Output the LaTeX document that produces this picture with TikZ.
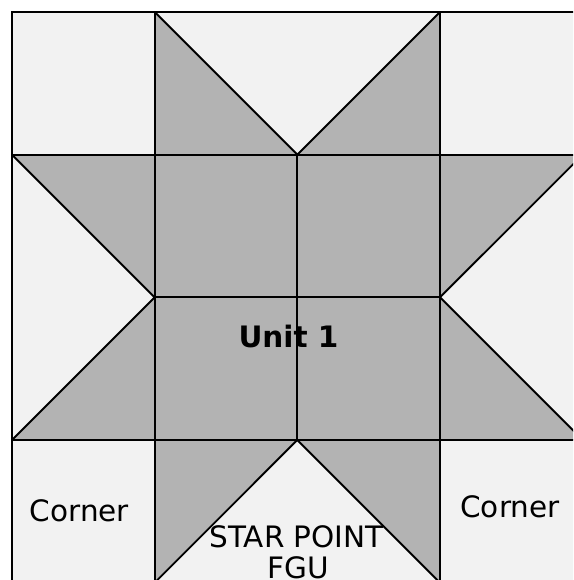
\documentclass[tikz,border=0pt]{standalone}
\usepackage{fontspec}
\setmainfont{DejaVu Sans}
\definecolor{lightpatch}{HTML}{F2F2F2}
\definecolor{darkpatch}{HTML}{B3B3B3}
\begin{document}
\begin{tikzpicture}[x=1pt,y=-1pt]
\tikzset{
  seam/.style={draw=black,line width=1.9pt,line join=miter},
  lbl/.style={font=\fontsize{29.5}{33}\selectfont,align=center,inner sep=0pt,text=black}
}
\useasboundingbox (0,0) rectangle (573,580);
\clip (0,0) rectangle (573,580);
\fill[white] (0,0) rectangle (573,580);
% background of the block
\fill[lightpatch] (12,12) rectangle (582.67,582.67);
% dark patches
\fill[darkpatch] (154.67,154.67) rectangle (440,440);
\fill[darkpatch] (154.67,12) -- (154.67,154.67) -- (297.33,154.67) -- cycle;
\fill[darkpatch] (440,12) -- (297.33,154.67) -- (440,154.67) -- cycle;
\fill[darkpatch] (12,154.67) -- (154.67,154.67) -- (154.67,297.33) -- cycle;
\fill[darkpatch] (154.67,297.33) -- (154.67,440) -- (12,440) -- cycle;
\fill[darkpatch] (440,154.67) -- (582.67,154.67) -- (440,297.33) -- cycle;
\fill[darkpatch] (440,297.33) -- (440,440) -- (582.67,440) -- cycle;
\fill[darkpatch] (154.67,440) -- (297.33,440) -- (154.67,582.67) -- cycle;
\fill[darkpatch] (297.33,440) -- (440,440) -- (440,582.67) -- cycle;
% seams
\draw[seam] (12,12) rectangle (582.67,582.67);
\foreach \v in {154.67,440}{
  \draw[seam] (\v,12) -- (\v,582.67);
  \draw[seam] (12,\v) -- (582.67,\v);
}
\draw[seam] (297.33,154.67) -- (297.33,440);
\draw[seam] (154.67,297.33) -- (440,297.33);
\draw[seam] (154.67,12) -- (297.33,154.67) -- (440,12);
\draw[seam] (12,154.67) -- (154.67,297.33) -- (12,440);
\draw[seam] (582.67,154.67) -- (440,297.33) -- (582.67,440);
\draw[seam] (154.67,582.67) -- (297.33,440) -- (440,582.67);
% labels
\node[lbl,font=\fontsize{29.5}{33}\selectfont\bfseries,anchor=base] (unit) at (288.5,347) {Unit 1};
\node[lbl,anchor=base] (cornerL) at (79.5,521.5) {Corner};
\node[lbl,anchor=base] (cornerR) at (510,517) {Corner};
\node[lbl,anchor=base] (starA) at (296.5,547) {STAR POINT};
\node[lbl,anchor=base] (starB) at (298,578) {FGU};
\end{tikzpicture}
\end{document}
